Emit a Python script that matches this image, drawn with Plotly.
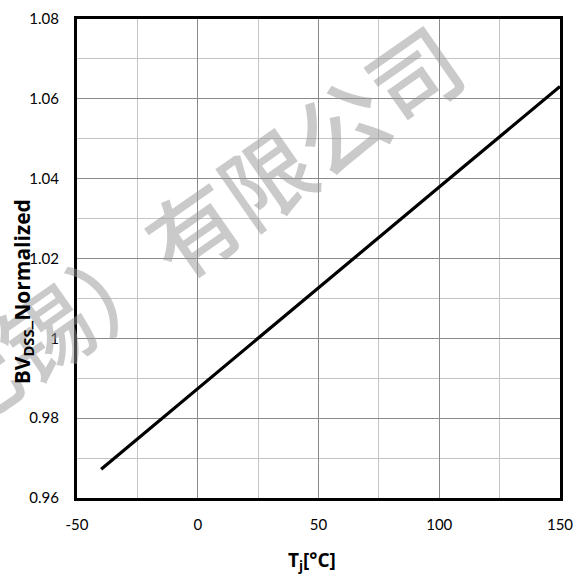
import plotly.graph_objects as go

# Data
tj = [-40, -25, 0, 25, 50, 75, 100, 125, 150]
bv_norm = [0.9672, 0.9748, 0.9874, 1.0000, 1.0126, 1.0253, 1.0379, 1.0505, 1.0631]
x_ticks = [-50, 0, 50, 100, 150]
x_tick_labels = ["-50", "0", "50", "100", "150"]
y_ticks = [0.96, 0.98, 1.00, 1.02, 1.04, 1.06, 1.08]
y_tick_labels = ["0.96", "0.98", "1", "1.02", "1.04", "1.06", "1.08"]

L, R, T, B = 77, 22, 9, 84
W = H = 582

fig = go.Figure()
fig.add_trace(go.Scatter(x=tj, y=bv_norm, mode="lines",
                         line=dict(color="black", width=3.2), showlegend=False))

tickfont = dict(family="Lato, Open Sans, sans-serif", size=15, color="black")
fig.update_xaxes(range=[-50, 150], tickvals=x_ticks, ticktext=x_tick_labels, tickfont=tickfont,
                 showgrid=True, gridcolor="#8a8a8a", gridwidth=1.2,
                 minor=dict(dtick=25, showgrid=True, gridcolor="#c4c4c4", gridwidth=1.2),
                 showline=True, linecolor="black", linewidth=3, mirror=True,
                 ticks="", ticklabelstandoff=11, zeroline=False)
fig.update_yaxes(range=[0.96, 1.08], tickvals=y_ticks, ticktext=y_tick_labels,
                 tickfont=tickfont,
                 showgrid=True, gridcolor="#8a8a8a", gridwidth=1.2,
                 minor=dict(dtick=0.01, tick0=0.96, showgrid=True, gridcolor="#c4c4c4", gridwidth=1.2),
                 showline=True, linecolor="black", linewidth=3, mirror=True,
                 ticks="", ticklabelstandoff=12, zeroline=False)

def px2paper(px, py):
    return (px - L) / (W - L - R), (H - B - py) / (H - T - B)

ann = []
# watermark
wx, wy = px2paper(191, 221)
ann.append(dict(text="无锡）有限公司", x=wx, y=wy, xref="paper", yref="paper",
                xanchor="center", yanchor="middle",
                showarrow=False, textangle=-35,
                font=dict(family="Noto Sans CJK SC", size=90, color="rgba(150,150,150,0.5)",
                          weight=500)))
# y title
tx, ty = px2paper(23, 288)
ann.append(dict(text="BV<sub>DSS</sub>_Normalized", x=tx, y=ty, xref="paper", yref="paper",
                showarrow=False, textangle=-90, xanchor="center", yanchor="middle",
                font=dict(family="Open Sans, Lato, sans-serif", size=21, color="black", weight="bold")))
# x title
xx, xy = px2paper(312, 562)
ann.append(dict(text="T<sub>j</sub>[°C]", x=xx, y=xy, xref="paper", yref="paper",
                showarrow=False, xanchor="center", yanchor="middle",
                font=dict(family="Open Sans, Lato, sans-serif", size=19, color="black", weight="bold")))

fig.update_layout(width=W, height=H, margin=dict(l=L, r=R, t=T, b=B),
                  plot_bgcolor="white", paper_bgcolor="white", annotations=ann)
fig.write_html("out.html")
